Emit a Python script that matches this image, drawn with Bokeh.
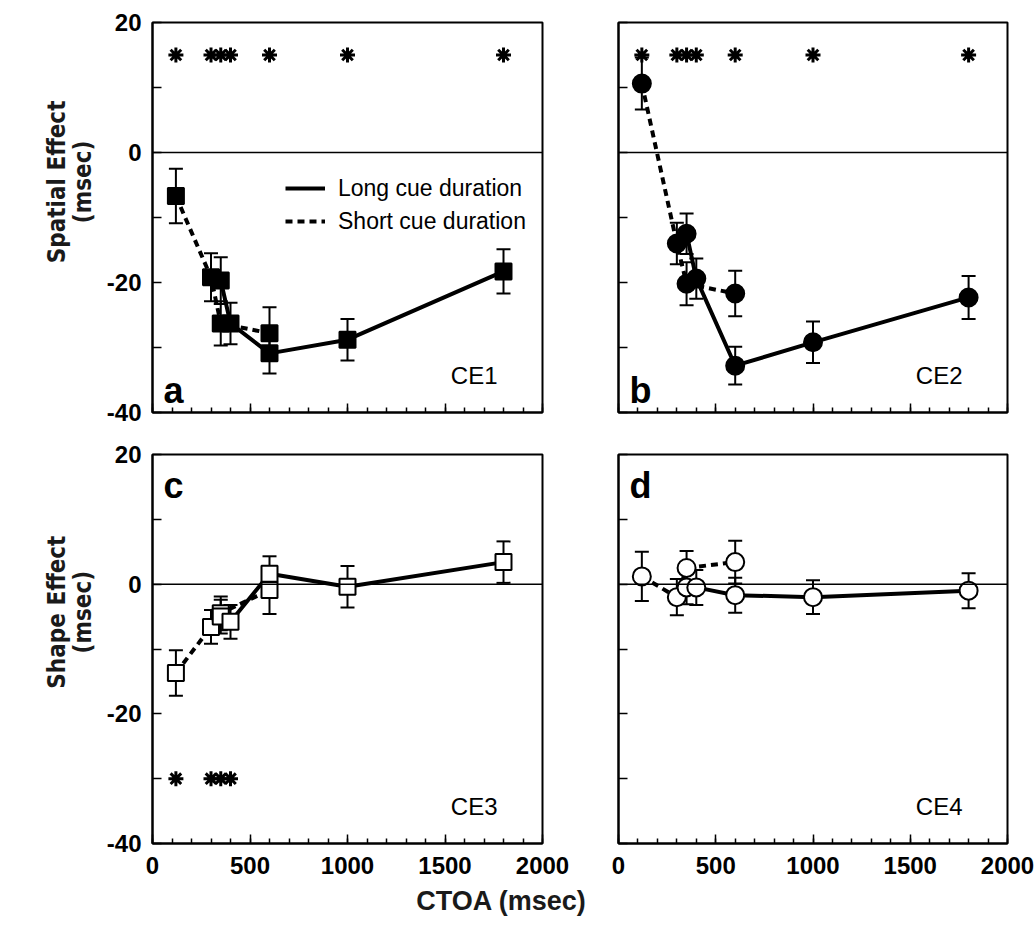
import math
from bokeh.plotting import figure
from bokeh.layouts import column, row
from bokeh.models import (ColumnDataSource, Whisker, TeeHead, Span, Label, Legend,
                          LegendItem, FixedTicker, Range1d)
from bokeh.embed import file_html
from bokeh.resources import INLINE

# ---------------- data ----------------
ctoa_short = [120, 300, 350, 600]
ctoa_long = [350, 400, 600, 1000, 1800]

ce1_short = [-6.7, -19.2, -26.3, -27.8]
ce1_short_err = [4.2, 3.7, 3.4, 4.0]
ce1_long = [-19.7, -26.3, -30.9, -28.8, -18.3]
ce1_long_err = [3.6, 3.2, 3.1, 3.2, 3.4]

ce2_short = [10.6, -14.0, -20.2, -21.7]
ce2_short_err = [4.0, 3.2, 3.3, 3.5]
ce2_long = [-12.5, -19.4, -32.8, -29.2, -22.3]
ce2_long_err = [3.1, 3.1, 2.9, 3.2, 3.3]

ce3_short = [-13.7, -6.6, -4.5, -0.9]
ce3_short_err = [3.5, 2.6, 2.6, 3.7]
ce3_long = [-5.0, -5.8, 1.6, -0.4, 3.4]
ce3_long_err = [2.6, 2.6, 2.7, 3.2, 3.2]

ce4_short = [1.2, -2.0, 2.5, 3.4]
ce4_short_err = [3.8, 2.8, 2.6, 3.3]
ce4_long = [-0.5, -0.5, -1.7, -2.0, -1.0]
ce4_long_err = [2.6, 2.7, 2.7, 2.6, 2.7]

sig_ce1 = [120, 300, 350, 400, 600, 1000, 1800]
sig_ce2 = [120, 300, 350, 400, 600, 1000, 1800]
sig_ce3 = [120, 300, 350, 400]
sig_ce4 = []
sig_level_spatial = 15
sig_level_shape = -30

x_ticks = [0, 500, 1000, 1500, 2000]
x_minor = list(range(0, 2001, 100))
y_ticks = [-40, -30, -20, -10, 0, 10, 20]
y_labels = {-40: "-40", -30: "", -20: "-20", -10: "", 0: "0", 10: "", 20: "20"}

FONT = "Liberation Sans"
NARROW = "DejaVu Sans Condensed, Liberation Sans Narrow, Liberation Sans, sans-serif"


def make_panel(fw, fh, bl, br, bt, bb, show_x, show_y):
    p = figure(frame_width=fw, frame_height=fh,
               x_range=Range1d(0, 2000), y_range=Range1d(-40, 20),
               output_backend="svg", toolbar_location=None,
               min_border_left=bl, min_border_right=br,
               min_border_top=bt, min_border_bottom=bb)
    p.xgrid.visible = False
    p.ygrid.visible = False
    p.outline_line_color = "black"
    p.outline_line_width = 2
    p.outline_line_alpha = 1
    p.background_fill_color = "white"
    p.border_fill_color = "white"

    xa = p.xaxis[0]
    xa.ticker = FixedTicker(ticks=x_ticks, minor_ticks=x_minor)
    ya = p.yaxis[0]
    ya.ticker = FixedTicker(ticks=y_ticks)
    ya.major_label_overrides = y_labels
    for ax in (xa, ya):
        ax.axis_line_width = 2
        ax.axis_line_color = "black"
        ax.major_tick_in = 9
        ax.major_tick_out = 0
        ax.minor_tick_in = 5
        ax.minor_tick_out = 0
        ax.major_tick_line_width = 1.5
        ax.minor_tick_line_width = 1.5
        ax.major_label_text_font = FONT
        ax.major_label_text_font_style = "bold"
        ax.major_label_text_font_size = "24px"
        ax.major_label_text_color = "black"
    xa.major_label_standoff = 13
    ya.major_label_standoff = 11
    for ax, show in ((xa, show_x), (ya, show_y)):
        if not show:
            ax.major_label_text_color = None
            ax.major_label_text_alpha = 0
            ax.major_label_text_font_size = "2px"
            ax.major_label_standoff = 0
    p.add_layout(Span(location=0, dimension="width", line_color="black", line_width=1.5))
    return p


def add_series(p, xs, ys, errs, dash):
    src = ColumnDataSource(dict(x=xs, y=ys,
                                upper=[a + b for a, b in zip(ys, errs)],
                                lower=[a - b for a, b in zip(ys, errs)]))
    w = Whisker(source=src, base="x", upper="upper", lower="lower",
                line_color="black", line_width=2,
                upper_head=TeeHead(size=14, line_width=2, line_color="black"),
                lower_head=TeeHead(size=14, line_width=2, line_color="black"))
    p.add_layout(w)
    kw = dict(line_color="black", line_width=4)
    if dash:
        kw["line_dash"] = "7 5"
    r = p.line("x", "y", source=src, **kw)
    return src, r


def add_markers(p, src, marker, filled):
    size = 16 if marker == "square" else 18
    p.scatter("x", "y", source=src, marker=marker, size=size,
              fill_color="black" if filled else "white",
              line_color="black", line_width=2)


def add_sig(p, xs, level):
    if xs:
        p.scatter(xs, [level] * len(xs), marker="asterisk", size=15,
                  line_color="black", line_width=3)


def add_texts(p, letter, ce, fw, fh, letter_top):
    ly = fh - 31 if letter_top else 22
    p.add_layout(Label(x=11, y=ly, x_units="screen", y_units="screen",
                       text=letter, text_font=FONT, text_font_style="bold",
                       text_font_size="36px", text_color="black",
                       text_baseline="alphabetic"))
    p.add_layout(Label(x=fw - 45, y=37, x_units="screen", y_units="screen",
                       text=ce, text_font=FONT, text_font_size="24px",
                       text_color="black", text_align="right",
                       text_baseline="alphabetic"))


def ylabel_fig(h, line1, line2, yc):
    f = figure(width=100, height=h, x_range=Range1d(0, 100), y_range=Range1d(0, h),
               output_backend="svg", toolbar_location=None, min_border=0,
               x_axis_type=None, y_axis_type=None)
    f.outline_line_color = None
    f.xgrid.visible = False
    f.ygrid.visible = False
    f.add_layout(Label(x=56, y=yc, text=line1, angle=math.pi / 2, text_align="center",
                       text_baseline="middle", text_font=NARROW, text_font_style="bold",
                       text_font_size="24px", text_color="#1a1a1a"))
    f.add_layout(Label(x=82, y=yc, text=line2, angle=math.pi / 2, text_align="center",
                       text_baseline="middle", text_font=NARROW, text_font_style="bold",
                       text_font_size="24px", text_color="#1a1a1a"))
    return f


specs = [
    ("a", "CE1", ce1_short, ce1_short_err, ce1_long, ce1_long_err, sig_ce1, sig_level_spatial, "square", True),
    ("b", "CE2", ce2_short, ce2_short_err, ce2_long, ce2_long_err, sig_ce2, sig_level_spatial, "circle", True),
    ("c", "CE3", ce3_short, ce3_short_err, ce3_long, ce3_long_err, sig_ce3, sig_level_shape, "square", False),
    ("d", "CE4", ce4_short, ce4_short_err, ce4_long, ce4_long_err, sig_ce4, sig_level_shape, "circle", False),
]
geom = {
    "a": dict(fw=390, fh=390, bl=52, br=38, bt=22, bb=21, show_x=False, show_y=True),
    "b": dict(fw=389, fh=390, bl=38, br=29, bt=22, bb=21, show_x=False, show_y=False),
    "c": dict(fw=390, fh=389, bl=52, br=38, bt=21, bb=44, show_x=True, show_y=True),
    "d": dict(fw=389, fh=389, bl=38, br=29, bt=21, bb=44, show_x=True, show_y=False),
}

figs = {}
for letter, ce, ys_s, es_s, ys_l, es_l, sig, lvl, marker, filled in specs:
    g = geom[letter]
    p = make_panel(**g)
    add_sig(p, sig, lvl)
    src_s, r_s = add_series(p, ctoa_short, ys_s, es_s, True)
    src_l, r_l = add_series(p, ctoa_long, ys_l, es_l, False)
    add_markers(p, src_s, marker, filled)
    add_markers(p, src_l, marker, filled)
    add_texts(p, letter, ce, g["fw"], g["fh"], letter in ("c", "d"))
    if letter == "a":
        legend = Legend(items=[LegendItem(label="Long cue duration", renderers=[r_l]),
                               LegendItem(label="Short cue duration", renderers=[r_s])],
                        location=(133, 176), glyph_width=40, glyph_height=30,
                        label_height=30, label_standoff=13, spacing=3, padding=0,
                        margin=0, border_line_alpha=0, background_fill_alpha=0,
                        label_text_font=FONT, label_text_font_size="23px",
                        label_text_color="black")
        p.add_layout(legend)
    figs[letter] = p

row1_h = 22 + 390 + 21
row2_h = 21 + 389 + 44
yl_a = ylabel_fig(row1_h, "Spatial Effect", "(msec)", row1_h - 177)
yl_c = ylabel_fig(row2_h, "Shape Effect", "(msec)", row2_h - (617 - row1_h))

lab_h = 933 - row1_h - row2_h
lab = figure(width=1036, height=lab_h, x_range=Range1d(0, 1036), y_range=Range1d(0, lab_h),
             output_backend="svg", toolbar_location=None, min_border=0,
             x_axis_type=None, y_axis_type=None)
lab.outline_line_color = None
lab.xgrid.visible = False
lab.ygrid.visible = False
lab.add_layout(Label(x=501, y=lab_h - 13, text="CTOA (msec)", text_align="center",
                     text_baseline="middle", text_font=FONT, text_font_style="bold",
                     text_font_size="27px", text_color="#1a1a1a"))

layout = column(row(yl_a, figs["a"], figs["b"]), row(yl_c, figs["c"], figs["d"]), lab)
open("out.html", "w").write(file_html(layout, INLINE))
